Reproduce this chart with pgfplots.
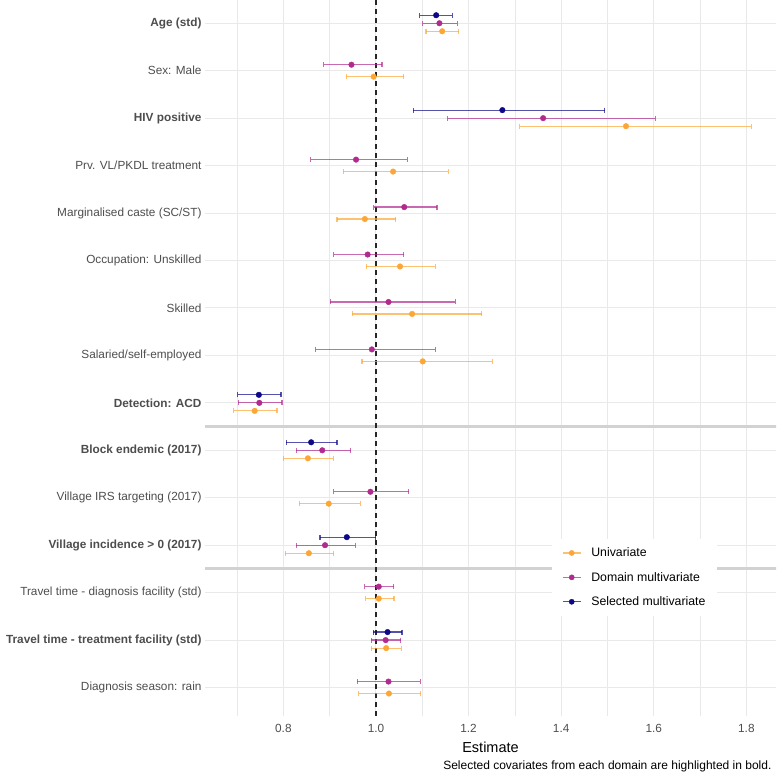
\documentclass[border=0pt]{standalone}
\usepackage{fontspec}
\setmainfont{Liberation Sans}
\usepackage{pgfplots}
\pgfplotsset{compat=1.18}
\usepackage{pgfplotstable}

\definecolor{univ}{HTML}{FCA636}
\definecolor{domn}{HTML}{B12A90}
\definecolor{selc}{HTML}{0D0887}
\definecolor{gridc}{HTML}{E9E9E9}
\definecolor{sepc}{HTML}{D2D2D2}
\definecolor{labc}{HTML}{4D4D4D}

% row k is drawn at y = -k; dodged series sit slightly above/below the row
\pgfplotstableread{
y       est    lo     hi
-0.169  1.143  1.108  1.179
-1.126  0.995  0.936  1.060
-2.169  1.540  1.310  1.811
-3.126  1.037  0.929  1.156
-4.126  0.976  0.916  1.043
-5.126  1.052  0.979  1.128
-6.126  1.078  0.949  1.228
-7.126  1.101  0.970  1.251
-8.169  0.738  0.693  0.786
-9.169  0.853  0.801  0.908
-10.126 0.898  0.834  0.966
-11.169 0.855  0.804  0.909
-12.126 1.006  0.978  1.039
-13.169 1.022  0.990  1.055
-14.126 1.028  0.963  1.097
}\univtab

\pgfplotstableread{
y       est    lo     hi
0.000   1.137  1.101  1.176
-0.874  0.947  0.887  1.013
-2.000  1.361  1.155  1.603
-2.874  0.957  0.859  1.068
-3.874  1.061  0.995  1.132
-4.874  0.982  0.909  1.060
-5.874  1.027  0.901  1.171
-6.874  0.991  0.870  1.128
-8.000  0.748  0.703  0.797
-9.000  0.884  0.828  0.945
-9.874  0.988  0.909  1.071
-11.000 0.890  0.828  0.955
-11.874 1.006  0.976  1.038
-13.000 1.021  0.990  1.053
-13.874 1.027  0.960  1.096
}\domntab

\pgfplotstableread{
y       est    lo     hi
0.169   1.130  1.094  1.165
-1.831  1.273  1.081  1.494
-7.831  0.747  0.701  0.795
-8.831  0.860  0.806  0.916
-10.831 0.937  0.879  0.999
-12.831 1.025  0.994  1.056
}\selctab

\pgfplotsset{
  ci/.style={
    only marks, mark=*, mark size=2.8pt, color=#1,
    error bars/.cd,
      x dir=both, x explicit, error mark=|,
      error bar style={line width=1.2pt, color=#1, opacity=0.7},
      error mark options={line width=1.2pt, mark size=2.5pt, color=#1, opacity=0.7},
  },
  ciimg/.style={
    legend image code/.code={
      \draw[line width=1.2pt, color=#1, opacity=0.7] (0pt,0pt) -- (18pt,0pt);
      \fill[color=#1] (9pt,0pt) circle (2.6pt);
    }
  },
}

\begin{document}
\begin{tikzpicture}
\useasboundingbox (0pt,0pt) rectangle (778pt,-773pt);
\begin{axis}[
  at={(205pt,-716pt)}, anchor=south west,
  scale only axis, width=571pt, height=716pt,
  xmin=0.6307, xmax=1.864, ymin=-14.60, ymax=0.49,
  axis line style={draw=none},
  major tick length=0pt, minor tick length=0pt,
  xtick={0.8,1.0,1.2,1.4,1.6,1.8},
  minor xtick={0.7,0.9,1.1,1.3,1.5,1.7},
  xticklabels={0.8,1.0,1.2,1.4,1.6,1.8},
  ytick={0,-1,-2,-3,-4,-5,-6,-7,-8,-9,-10,-11,-12,-13,-14},
  yticklabels={
    \textbf{Age (std)},
    Sex: Male,
    \textbf{HIV positive},
    Prv. VL/PKDL treatment,
    Marginalised caste (SC/ST),
    Occupation: Unskilled,
    Skilled,
    Salaried/self-employed,
    \textbf{Detection: ACD},
    \textbf{Block endemic (2017)},
    Village IRS targeting (2017),
    \textbf{Village incidence > 0 (2017)},
    Travel time - diagnosis facility (std),
    \textbf{Travel time - treatment facility (std)},
    Diagnosis season: rain},
  grid=both,
  major grid style={line width=1pt, color=gridc},
  minor grid style={line width=0.6pt, color=gridc},
  xticklabel style={font=\fontsize{11.8}{14}\selectfont, color=labc, yshift=-5pt},
  yticklabel style={font=\fontsize{11.8}{14}\selectfont, color=labc},
  /pgf/number format/assume math mode=true,
  xlabel={Estimate},
  xlabel style={font=\fontsize{14.5}{17}\selectfont, yshift=-2pt},
  legend cell align=left,
  legend style={
    at={(axis cs:1.38,-10.86)}, anchor=north west,
    fill=white, draw=none,
    font=\fontsize{12.3}{15}\selectfont,
    row sep=10pt, inner xsep=10pt, inner ysep=7pt,
    /tikz/every odd column/.append style={column sep=8pt},
  },
]
% domain separators
\addplot[forget plot, sepc, line width=3pt] coordinates {(0.5,-8.5) (2,-8.5)};
\addplot[forget plot, sepc, line width=3pt] coordinates {(0.5,-11.5) (2,-11.5)};
% null effect
\addplot[forget plot, black!85, line width=1.3pt, dash pattern=on 5pt off 4pt]
  coordinates {(1,-14.60) (1,0.49)};

\addplot[forget plot, ci=univ] table[x=est, y=y,
  x error plus expr=\thisrow{hi}-\thisrow{est},
  x error minus expr=\thisrow{est}-\thisrow{lo}] {\univtab};
\addplot[forget plot, ci=domn] table[x=est, y=y,
  x error plus expr=\thisrow{hi}-\thisrow{est},
  x error minus expr=\thisrow{est}-\thisrow{lo}] {\domntab};
\addplot[forget plot, ci=selc] table[x=est, y=y,
  x error plus expr=\thisrow{hi}-\thisrow{est},
  x error minus expr=\thisrow{est}-\thisrow{lo}] {\selctab};

\addlegendimage{ciimg=univ}
\addlegendentry{Univariate}
\addlegendimage{ciimg=domn}
\addlegendentry{Domain multivariate}
\addlegendimage{ciimg=selc}
\addlegendentry{Selected multivariate}
\end{axis}
\node[anchor=base east, font=\fontsize{12}{14}\selectfont] at (775pt,-769pt)
  {Selected covariates from each domain are highlighted in bold.};
\end{tikzpicture}
\end{document}
